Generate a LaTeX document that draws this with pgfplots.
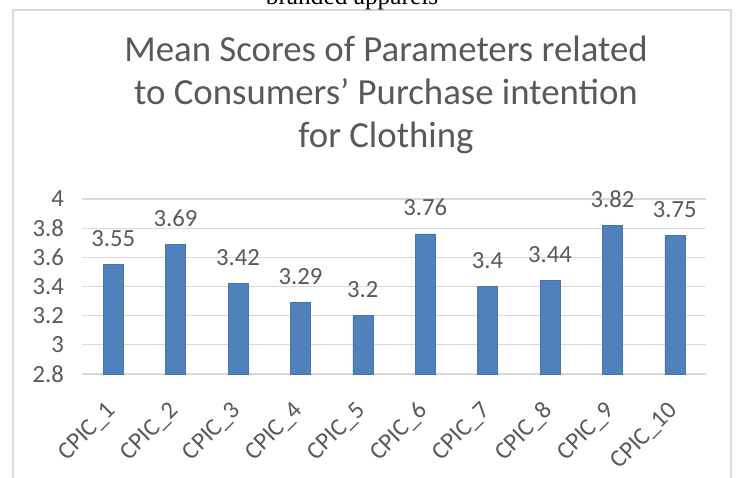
\documentclass[border=0pt]{standalone}
\usepackage{pgfplots}
\pgfplotsset{compat=1.18}
\usepackage{fontspec}
\setmainfont{Carlito}
\newfontfamily\timesfont{Liberation Serif}
\definecolor{barblue}{HTML}{4F81BD}
\definecolor{txtgray}{HTML}{595959}
\definecolor{gridgray}{HTML}{D9D9D9}
\begin{document}
\begin{tikzpicture}[x=0.75pt,y=0.75pt]
\useasboundingbox (0,0) rectangle (736,478);
\draw[gridgray, line width=1.2pt] (13,-20) rectangle (731,468);
\node[anchor=base, inner sep=0pt, font=\timesfont\fontsize{19}{22}\selectfont] at (352,473) {branded apparels};
\node[anchor=base, inner sep=0pt, text=txtgray, font=\fontsize{27.6}{32}\selectfont] at (386,416) {Mean Scores of Parameters related};
\node[anchor=base, inner sep=0pt, text=txtgray, font=\fontsize{27.6}{32}\selectfont] at (386,373) {to Consumers’ Purchase intention};
\node[anchor=base, inner sep=0pt, text=txtgray, font=\fontsize{27.6}{32}\selectfont] at (386,330) {for Clothing};
\begin{axis}[
  at={(61.5pt,78pt)}, anchor=south west,
  scale only axis, width=468pt, height=131.25pt,
  xmin=-0.5, xmax=9.5, ymin=2.8, ymax=4,
  ytick={2.8,3,3.2,3.4,3.6,3.8,4},
  yticklabels={2.8,3,3.2,3.4,3.6,3.8,4},
  xtick={0,...,9},
  xticklabels={CPIC\_1,CPIC\_2,CPIC\_3,CPIC\_4,CPIC\_5,CPIC\_6,CPIC\_7,CPIC\_8,CPIC\_9,CPIC\_10},
  axis line style={draw=none},
  major tick length=0pt,
  ymajorgrids, grid style={gridgray, line width=0.8pt},
  yticklabel style={text=txtgray, font=\fontsize{18.5}{20}\selectfont, anchor=east, xshift=-10pt},
  xticklabel style={text=txtgray, font=\fontsize{18.5}{20}\selectfont, xshift=0pt, yshift=-24pt, rotate=45, anchor=east, inner sep=1pt},
  ybar, bar width=15pt,
  point meta=explicit symbolic,
  nodes near coords,
  every node near coord/.append style={text=txtgray, font=\fontsize{18.5}{20}\selectfont, anchor=base, inner sep=0pt, yshift=13.5pt},
  clip=false,
]
\addplot[fill=barblue, draw=barblue!90!black, line width=0.3pt] coordinates {
  (0,3.55) [3.55]
  (1,3.69) [3.69]
  (2,3.42) [3.42]
  (3,3.29) [3.29]
  (4,3.2) [3.2]
  (5,3.76) [3.76]
  (6,3.4) [3.4]
  (7,3.44) [3.44]
  (8,3.82) [3.82]
  (9,3.75) [3.75]
};
\end{axis}
\end{tikzpicture}
\end{document}
